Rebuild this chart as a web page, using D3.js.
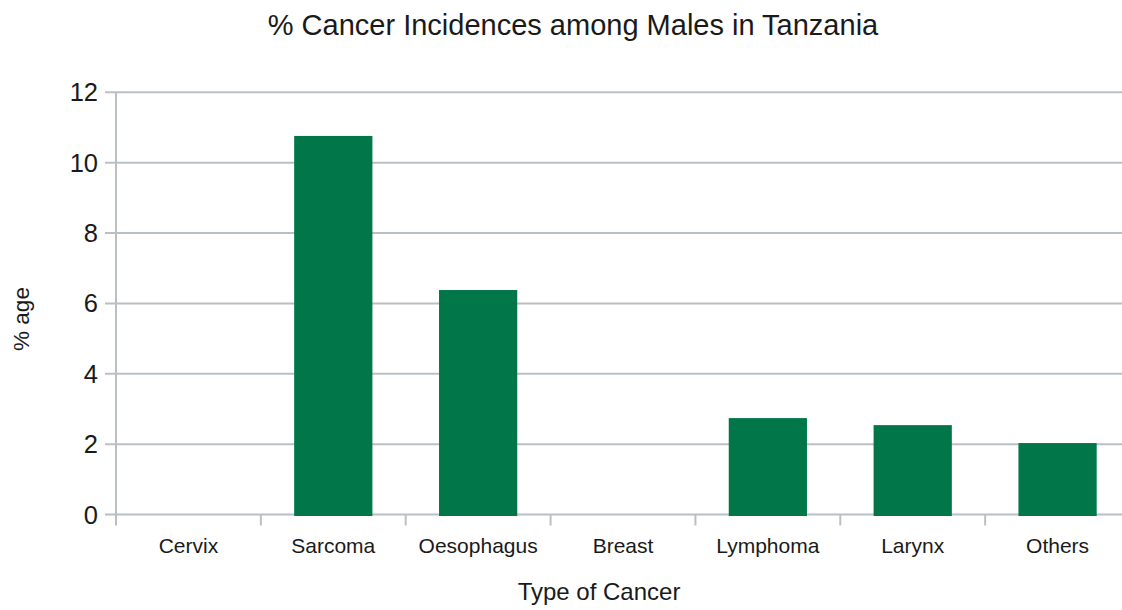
<!DOCTYPE html>
<html>
<head>
<meta charset="utf-8">
<script src="https://cdn.jsdelivr.net/npm/d3@7"></script>
<style>
  html, body { margin: 0; padding: 0; background: #fff; }
  svg { display: block; font-family: "Liberation Sans", Arial, sans-serif; }
</style>
</head>
<body>
<svg id="chart" width="1122" height="610"></svg>
<script>
// Share of cancer incidences among males, by cancer type (percent)
const categories = ["Cervix", "Sarcoma", "Oesophagus", "Breast", "Lymphoma", "Larynx", "Others"];
const values = [0, 10.76, 6.38, 0, 2.74, 2.54, 2.03];
const yTicks = [0, 2, 4, 6, 8, 10, 12];

const svg = d3.select("#chart");
const plotLeft = 116, plotRight = 1130, plotTop = 92.3, plotBottom = 514.5;

const x = d3.scaleBand().domain(categories).range([plotLeft, plotRight]).paddingInner(0.46).paddingOuter(0.23);
const xEdges = d3.scaleBand().domain(categories).range([plotLeft, plotRight]).padding(0);
const y = d3.scaleLinear().domain([0, 12]).range([plotBottom, plotTop]);

const gridColor = "#b9c0c5";

// horizontal gridlines with outward tick stubs
svg.append("g").selectAll("line").data(yTicks).join("line")
  .attr("x1", plotLeft - 11).attr("x2", plotRight)
  .attr("y1", d => y(d)).attr("y2", d => y(d))
  .attr("stroke", gridColor).attr("stroke-width", 2);

// y axis line
svg.append("line").attr("x1", plotLeft).attr("x2", plotLeft)
  .attr("y1", plotTop).attr("y2", plotBottom + 11)
  .attr("stroke", gridColor).attr("stroke-width", 2);

// category separator ticks below the baseline
svg.append("g").selectAll("line").data(categories.slice(1)).join("line")
  .attr("x1", d => xEdges(d)).attr("x2", d => xEdges(d))
  .attr("y1", plotBottom).attr("y2", plotBottom + 11)
  .attr("stroke", gridColor).attr("stroke-width", 2);

// bars
svg.append("g").selectAll("rect").data(categories.map((c, i) => ({c, v: values[i]})).filter(d => d.v > 0)).join("rect")
  .attr("x", d => x(d.c)).attr("width", x.bandwidth())
  .attr("y", d => y(d.v)).attr("height", d => y(0) - y(d.v) + 1.5)
  .attr("fill", "#017749");

// y tick labels
svg.append("g").selectAll("text").data(yTicks).join("text")
  .attr("x", plotLeft - 18).attr("y", d => y(d) + 9)
  .attr("text-anchor", "end").attr("font-size", 25.5).attr("fill", "#1a1a1a")
  .text(d => d);

// category labels
svg.append("g").selectAll("text").data(categories).join("text")
  .attr("x", d => xEdges(d) + xEdges.bandwidth() / 2).attr("y", 553)
  .attr("text-anchor", "middle").attr("font-size", 21).attr("fill", "#1a1a1a")
  .text(d => d);

// title
svg.append("text").attr("x", 573).attr("y", 35)
  .attr("text-anchor", "middle").attr("font-size", 29).attr("fill", "#1a1a1a")
  .text("% Cancer Incidences among Males in Tanzania");

// axis titles
svg.append("text").attr("x", 599).attr("y", 600)
  .attr("text-anchor", "middle").attr("font-size", 24).attr("fill", "#1a1a1a")
  .text("Type of Cancer");

svg.append("text").attr("transform", "translate(29,319) rotate(-90)")
  .attr("text-anchor", "middle").attr("font-size", 22.5).attr("fill", "#1a1a1a")
  .text("% age");
</script>
</body>
</html>
